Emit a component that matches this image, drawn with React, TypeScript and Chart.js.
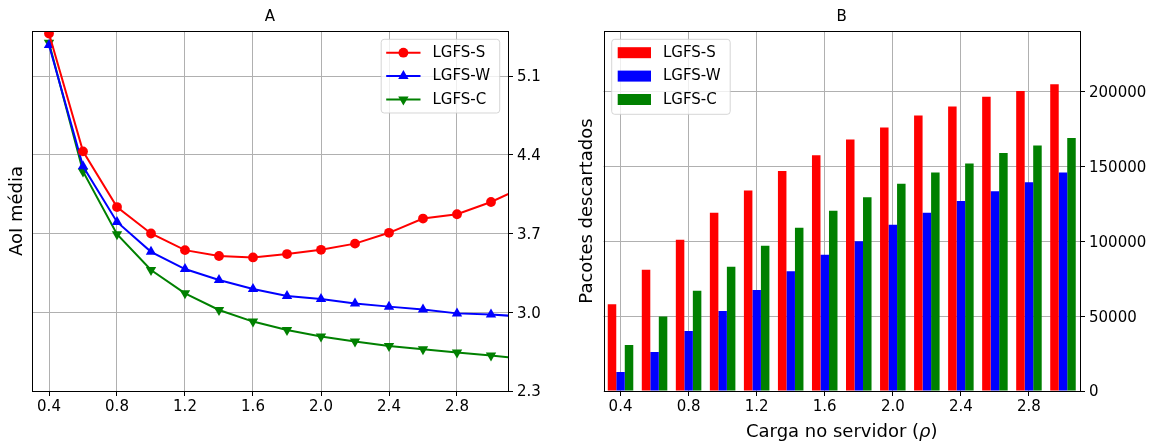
import React, { useEffect, useRef } from 'react';
import { Chart, registerables } from 'chart.js';

Chart.register(...registerables);

const FONT = 'DejaVu Sans';

// ---- data ----
const LOAD = [0.4, 0.6, 0.8, 1.0, 1.2, 1.4, 1.6, 1.8, 2.0, 2.2, 2.4, 2.6, 2.8, 3.0];
const LOAD_LINE = [0.4, 0.6, 0.8, 1.0, 1.2, 1.4, 1.6, 1.8, 2.0, 2.2, 2.4, 2.6, 2.8, 3.0, 3.2];
const X_TICKS = [0.4, 0.8, 1.2, 1.6, 2.0, 2.4, 2.8];

const AOI_S = [5.478, 4.43, 3.935, 3.7, 3.552, 3.5, 3.487, 3.517, 3.555, 3.61, 3.706, 3.833, 3.871, 3.98, 4.12];
const AOI_W = [5.375, 4.297, 3.803, 3.537, 3.384, 3.286, 3.207, 3.145, 3.118, 3.077, 3.05, 3.024, 2.99, 2.98, 2.96];
const AOI_C = [5.396, 4.252, 3.694, 3.375, 3.168, 3.02, 2.917, 2.843, 2.784, 2.74, 2.7, 2.672, 2.643, 2.616, 2.585];
const AOI_TICKS = [2.3, 3.0, 3.7, 4.4, 5.1];

const DROP_S = [58000, 81000, 101000, 119000, 134000, 147000, 157500, 168000, 176000, 184000, 190000, 196500, 200500, 205000];
const DROP_W = [12700, 26000, 40000, 53500, 67500, 80000, 91000, 100000, 111000, 119000, 127000, 133500, 139500, 146000];
const DROP_C = [30800, 49800, 67000, 83000, 97000, 109000, 120500, 129500, 138500, 146000, 152000, 159000, 164000, 169000];
const DROP_TICKS = [0, 50000, 100000, 150000, 200000];

const SERIES = ['LGFS-S', 'LGFS-W', 'LGFS-C'];
const COLORS = ['#ff0000', '#0000ff', '#008000'];

const X_TITLE_PARTS = ['Carga no servidor (', 'ρ', ')'];

const GRID = '#b0b0b0';

function crisp(v: number) {
  return Math.round(v) + 0.5;
}

function drawMarker(ctx: CanvasRenderingContext2D, style: string, x: number, y: number, r: number, rot: number) {
  ctx.beginPath();
  if (style === 'circle') {
    ctx.arc(x, y, r, 0, Math.PI * 2);
  } else {
    let rad = (rot * Math.PI) / 180;
    ctx.moveTo(x + Math.sin(rad) * r, y - Math.cos(rad) * r);
    rad += (2 * Math.PI) / 3;
    ctx.lineTo(x + Math.sin(rad) * r, y - Math.cos(rad) * r);
    rad += (2 * Math.PI) / 3;
    ctx.lineTo(x + Math.sin(rad) * r, y - Math.cos(rad) * r);
    ctx.closePath();
  }
  ctx.fill();
}

function roundRect(ctx: CanvasRenderingContext2D, x: number, y: number, w: number, h: number, r: number) {
  ctx.beginPath();
  ctx.moveTo(x + r, y);
  ctx.lineTo(x + w - r, y);
  ctx.quadraticCurveTo(x + w, y, x + w, y + r);
  ctx.lineTo(x + w, y + h - r);
  ctx.quadraticCurveTo(x + w, y + h, x + w - r, y + h);
  ctx.lineTo(x + r, y + h);
  ctx.quadraticCurveTo(x, y + h, x, y + h - r);
  ctx.lineTo(x, y + r);
  ctx.quadraticCurveTo(x, y, x + r, y);
  ctx.closePath();
}

function makeDecor(title: string, legendKind: 'line' | 'bar', xTitle: boolean) {
  return {
    id: 'decor',
    afterDraw(chart: any) {
      const { ctx, chartArea: a } = chart;
      ctx.save();
      // frame
      ctx.strokeStyle = '#000';
      ctx.lineWidth = 1;
      const l = crisp(a.left), t = crisp(a.top), r = crisp(a.right), b = crisp(a.bottom);
      ctx.strokeRect(l, t, r - l, b - t);
      // title
      ctx.fillStyle = '#000';
      ctx.font = `15px "${FONT}"`;
      ctx.textAlign = 'center';
      ctx.textBaseline = 'middle';
      ctx.fillText(title, (a.left + a.right) / 2, 17);
      // x axis title with italic rho
      if (xTitle) {
        const fonts = [`18px "${FONT}"`, `italic 18px "${FONT}"`, `18px "${FONT}"`];
        let total = 0;
        const widths = X_TITLE_PARTS.map((p, i) => {
          ctx.font = fonts[i];
          const w = ctx.measureText(p).width;
          total += w;
          return w;
        });
        let x = (a.left + a.right) / 2 - total / 2;
        ctx.textAlign = 'left';
        ctx.textBaseline = 'alphabetic';
        X_TITLE_PARTS.forEach((p, i) => {
          ctx.font = fonts[i];
          ctx.fillText(p, x, 437);
          x += widths[i];
        });
      }
      // legend
      const w = 118.5;
      const h = legendKind === 'line' ? 73.7 : 75;
      const bx = legendKind === 'line' ? a.right - 8.3 - w : a.left + 8.2;
      const by = a.top + 8.3;
      ctx.globalAlpha = 0.8;
      roundRect(ctx, bx, by, w, h, 3);
      ctx.fillStyle = '#ffffff';
      ctx.fill();
      ctx.strokeStyle = '#cccccc';
      ctx.lineWidth = 1;
      ctx.stroke();
      ctx.globalAlpha = 1;
      chart.data.datasets.forEach((ds: any, i: number) => {
        const cy = by + 13.4 + i * 23.4;
        const color = ds.borderColor || ds.backgroundColor;
        if (legendKind === 'line') {
          ctx.strokeStyle = color;
          ctx.lineWidth = 2;
          ctx.beginPath();
          ctx.moveTo(bx + 5, cy);
          ctx.lineTo(bx + 39.3, cy);
          ctx.stroke();
          ctx.fillStyle = color;
          drawMarker(ctx, ds.pointStyle, bx + 22.2, cy, ds.pointRadius, ds.pointRotation || 0);
        } else {
          ctx.fillStyle = ds.backgroundColor;
          ctx.fillRect(bx + 6, cy - 5.5, 33.3, 11);
        }
        ctx.fillStyle = '#000';
        ctx.font = `15px "${FONT}"`;
        ctx.textAlign = 'left';
        ctx.textBaseline = 'middle';
        ctx.fillText(ds.label, bx + 51.3, cy + 0.5);
      });
      ctx.restore();
    },
  };
}

function xScale(z: number) {
  return {
    type: 'linear',
    min: 0.3,
    max: 3.1,
    offset: false,
    z,
    afterBuildTicks: (s: any) => {
      s.ticks = X_TICKS.map((v) => ({ value: v }));
    },
    afterFit: (s: any) => {
      s.height = 52;
    },
    grid: { color: GRID, lineWidth: 1, tickColor: '#000', tickLength: 5, offset: false, drawTicks: true },
    border: { display: false },
    ticks: {
      color: '#000',
      font: { family: FONT, size: 15 },
      padding: 2,
      maxRotation: 0,
      autoSkip: false,
      callback: (v: any) => Number(v).toFixed(1),
    },
  };
}

function leftTitleScale(text: string, width: number, pad: number) {
  return {
    type: 'linear',
    position: 'left',
    display: true,
    grid: { display: false, drawTicks: false },
    border: { display: false },
    ticks: { display: false },
    afterFit: (s: any) => {
      s.width = width;
    },
    title: {
      display: true,
      text,
      color: '#000',
      font: { family: FONT, size: 18 },
      padding: { top: pad, bottom: 0 },
    },
  };
}

function LineChart() {
  const ref = useRef<HTMLCanvasElement | null>(null);
  useEffect(() => {
    if (!ref.current) return;
    const styles = [
      { pointStyle: 'circle', pointRadius: 4.9, pointRotation: 0 },
      { pointStyle: 'triangle', pointRadius: 6, pointRotation: 0 },
      { pointStyle: 'triangle', pointRadius: 6, pointRotation: 180 },
    ];
    const vals = [AOI_S, AOI_W, AOI_C];
    const chart = new Chart(ref.current, {
      type: 'line',
      data: {
        datasets: SERIES.map((label, i) => ({
          label,
          data: LOAD_LINE.map((x, j) => ({ x, y: vals[i][j] })),
          xAxisID: 'x',
          yAxisID: 'y',
          borderColor: COLORS[i],
          backgroundColor: COLORS[i],
          pointBackgroundColor: COLORS[i],
          pointBorderWidth: 0,
          borderWidth: 2,
          tension: 0,
          clip: 0,
          ...styles[i],
        })),
      } as any,
      options: {
        responsive: false,
        animation: false,
        layout: { padding: { top: 31, left: 0, right: 0, bottom: 0 } },
        plugins: { legend: { display: false }, tooltip: { enabled: false }, title: { display: false } },
        scales: {
          x: xScale(0),
          y: {
            type: 'linear',
            position: 'right',
            min: 2.3,
            max: 5.5,
            afterBuildTicks: (s: any) => {
              s.ticks = AOI_TICKS.map((v) => ({ value: v }));
            },
            afterFit: (s: any) => {
              s.width = 52;
            },
            grid: { color: GRID, lineWidth: 1, tickColor: '#000', tickLength: 5 },
            border: { display: false },
            ticks: {
              color: '#000',
              font: { family: FONT, size: 15 },
              padding: 4,
              labelOffset: 1.5,
              callback: (v: any) => Number(v).toFixed(1),
            },
          },
          yL: leftTitleScale('AoI média', 32, 7),
        },
      } as any,
      plugins: [makeDecor('A', 'line', false)],
    });
    return () => chart.destroy();
  }, []);
  return <canvas ref={ref} width={560} height={443} style={{ position: 'absolute', left: 0, top: 0 }} />;
}

function BarChart() {
  const ref = useRef<HTMLCanvasElement | null>(null);
  useEffect(() => {
    if (!ref.current) return;
    const vals = [DROP_S, DROP_W, DROP_C];
    const chart = new Chart(ref.current, {
      type: 'bar',
      data: {
        datasets: SERIES.map((label, i) => ({
          label,
          data: LOAD.map((x, j) => ({ x, y: vals[i][j] })),
          xAxisID: 'x',
          yAxisID: 'y',
          backgroundColor: COLORS[i],
          borderWidth: 0,
          categoryPercentage: 0.75,
          barPercentage: 1.0,
        })),
      } as any,
      options: {
        responsive: false,
        animation: false,
        layout: { padding: { top: 31, left: 0, right: 0, bottom: 0 } },
        plugins: { legend: { display: false }, tooltip: { enabled: false }, title: { display: false } },
        scales: {
          x: xScale(1),
          y: {
            type: 'linear',
            position: 'right',
            min: 0,
            max: 240500,
            z: 1,
            afterBuildTicks: (s: any) => {
              s.ticks = DROP_TICKS.map((v) => ({ value: v }));
            },
            afterFit: (s: any) => {
              s.width = 76;
            },
            grid: { color: GRID, lineWidth: 1, tickColor: '#000', tickLength: 5 },
            border: { display: false },
            ticks: {
              color: '#000',
              font: { family: FONT, size: 15 },
              padding: 4,
              labelOffset: 1.5,
              callback: (v: any) => String(v),
            },
          },
          yL: leftTitleScale('Pacotes descartados', 43.5, 17),
        },
      } as any,
      plugins: [makeDecor('B', 'bar', true)],
    });
    return () => chart.destroy();
  }, []);
  return <canvas ref={ref} width={596} height={443} style={{ position: 'absolute', left: 560, top: 0 }} />;
}

export default function App() {
  return (
    <div style={{ position: 'absolute', left: 0, top: 0, width: 1156, height: 443, background: '#ffffff', overflow: 'hidden' }}>
      <LineChart />
      <BarChart />
    </div>
  );
}
